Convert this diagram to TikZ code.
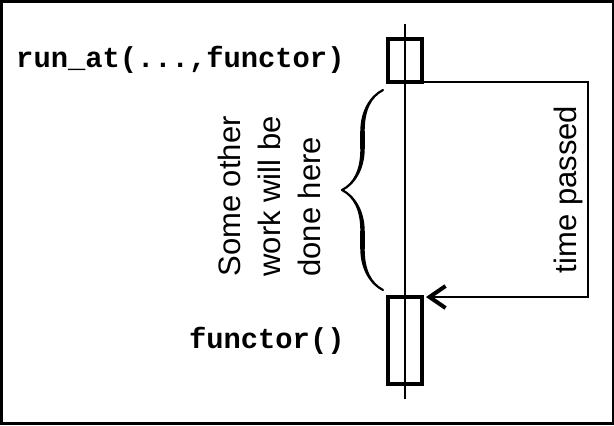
\documentclass[tikz,border=0pt]{standalone}
\usepackage{fontspec}
\setsansfont{Liberation Sans}
\setmonofont{Liberation Mono}
\usepackage{tikz}
\usetikzlibrary{arrows.meta, decorations.pathreplacing, calligraphy}
\tikzset{frame/.style={line width=1.25pt}}
\tikzset{activation/.style={draw, line width=2pt, inner sep=0, outer sep=0, minimum width=17pt}}
\tikzset{lifeline/.style={line width=1pt}}
\tikzset{callout/.style={font=\fontsize{14.4}{16}\selectfont\ttfamily\bfseries, inner sep=0, anchor=east}}
\tikzset{remark/.style={font=\fontsize{15.5}{20}\selectfont\sffamily, inner sep=0, rotate=90}}
\tikzset{waitbrace/.style={decoration={calligraphic brace, amplitude=20.5pt}, decorate, line width=2.2pt, pen colour={black}}}
\tikzset{elapsed/.style={line width=1pt, shorten >=2pt, -{Straight Barb[length=8pt, width=11pt, line width=2pt]}}}

\begin{document}
\begin{tikzpicture}[x=0.5pt, y=-0.5pt]
    \useasboundingbox (0, 0) rectangle (614, 425);
    \draw[frame] (1.3, 1.3) rectangle (612.8, 423.3);
    \coordinate (lifetop) at (405, 24);
    \coordinate (lifebot) at (405, 399);
    \draw[lifeline] (lifetop) -- (lifebot);
    \node[activation, minimum height=21.5pt] (sent) at (405, 60.5) {};
    \node[activation, minimum height=43.5pt] (fired) at (405, 340.5) {};
    \node[callout] (schedule) at (345, 60) {run\_at(...,functor)};
    \node[callout] (invoke) at (345, 341) {functor()};
    \coordinate (turn) at (588, 0);
    \draw[elapsed] (sent.south east) -| (turn |- fired.north east) -- (fired.north east);
    \node[remark, anchor=base] (passed) at (576, 189.5) {time passed};
    \coordinate (bracelo) at (383, 290);
    \coordinate (bracehi) at (383, 90);
    \draw[waitbrace] (bracelo) -- (bracehi);
    \node[remark, anchor=north west, align=left] (otherwork) at (218, 277) {Some other\\work will be\\done here};
\end{tikzpicture}
\end{document}
